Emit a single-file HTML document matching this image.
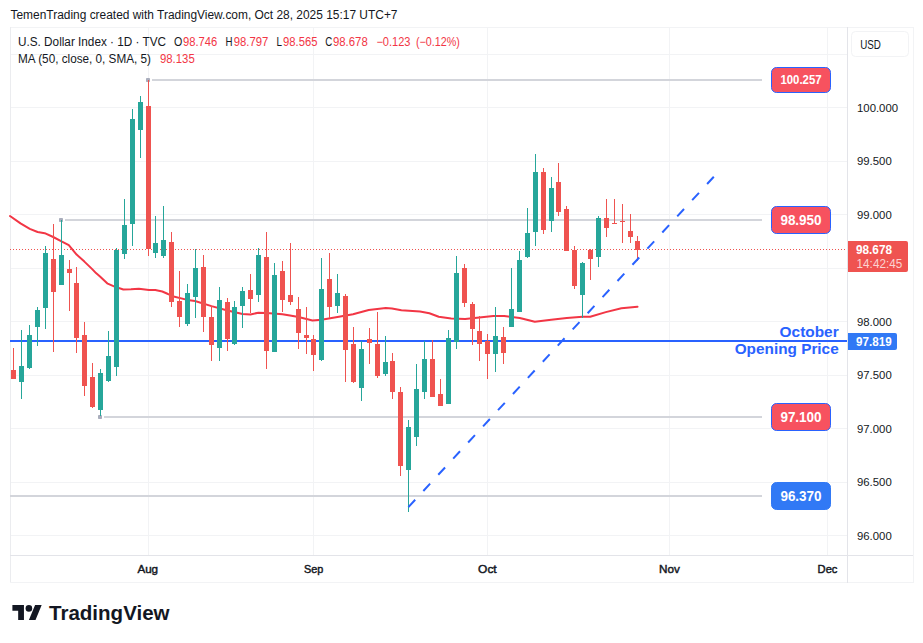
<!DOCTYPE html>
<html><head><meta charset="utf-8"><title>chart</title>
<style>
html,body{margin:0;padding:0;background:#fff;}
body{width:923px;height:643px;overflow:hidden;font-family:"Liberation Sans",sans-serif;}
svg{display:block;font-family:"Liberation Sans",sans-serif;}
</style></head><body>
<svg width="923" height="643" viewBox="0 0 923 643">
<rect width="923" height="643" fill="#ffffff"/>
<!-- grid -->
<g shape-rendering="crispEdges">
<rect x="11" y="54" width="836" height="1" fill="#f2f3f5"/><rect x="11" y="107" width="836" height="1" fill="#f2f3f5"/><rect x="11" y="161" width="836" height="1" fill="#f2f3f5"/><rect x="11" y="214" width="836" height="1" fill="#f2f3f5"/><rect x="11" y="268" width="836" height="1" fill="#f2f3f5"/><rect x="11" y="321" width="836" height="1" fill="#f2f3f5"/><rect x="11" y="375" width="836" height="1" fill="#f2f3f5"/><rect x="11" y="428" width="836" height="1" fill="#f2f3f5"/><rect x="11" y="482" width="836" height="1" fill="#f2f3f5"/><rect x="11" y="535" width="836" height="1" fill="#f2f3f5"/>
<rect x="148" y="28" width="1" height="527" fill="#f2f3f5"/><rect x="313" y="28" width="1" height="527" fill="#f2f3f5"/><rect x="487" y="28" width="1" height="527" fill="#f2f3f5"/><rect x="669" y="28" width="1" height="527" fill="#f2f3f5"/><rect x="827" y="28" width="1" height="527" fill="#f2f3f5"/>
<!-- frame -->
<rect x="10" y="27" width="903" height="1" fill="#f2f3f5"/>
<rect x="10" y="27" width="1" height="556" fill="#ebecef"/>
<rect x="913" y="27" width="1" height="556" fill="#f2f3f5"/>
<rect x="10" y="582" width="904" height="1" fill="#f2f3f5"/>
<rect x="10" y="555" width="903" height="1" fill="#e3e4e9"/>
<rect x="847" y="27" width="1" height="556" fill="#e3e4e9"/>
</g>
<!-- horizontal grey level lines -->
<rect x="152" y="79" width="610" height="2" fill="#d3d5db"/><rect x="146" y="78" width="4" height="4" rx="0.8" fill="#a9adbc"/>
<rect x="65" y="219" width="697" height="2" fill="#d3d5db"/><rect x="59" y="218" width="4" height="4" rx="0.8" fill="#a9adbc"/>
<rect x="104" y="416" width="658" height="2" fill="#d3d5db"/><rect x="98" y="415" width="4" height="4" rx="0.8" fill="#a9adbc"/>
<rect x="10" y="495" width="752" height="2" fill="#d3d5db"/>
<!-- october opening price line -->
<rect x="10" y="340" width="837" height="2" fill="#2962ff"/>
<!-- price dotted line -->
<line x1="10" y1="249.5" x2="846" y2="249.5" stroke="#ef5350" stroke-width="1" stroke-dasharray="1 2" shape-rendering="crispEdges"/>
<!-- MA -->
<path d="M10,216 L20.5,223.4 L29.8,228.9 L37.6,232 L44.7,233.2 L53.2,237 L61.5,241.3 L68.8,245.2 L76.6,254.6 L84.4,261.6 L92.2,269.1 L96,273.1 L100,276.5 L107.7,283.7 L114,286.4 L123.3,289.5 L131,289.2 L138.9,288.7 L149,289.9 L155.3,290.1 L162.3,291.5 L168,294 L171.5,296 L187.4,299.9 L195,301 L211.5,306.1 L227.5,310.5 L242.5,313.9 L250.5,314.4 L258.4,312.7 L266.5,313.1 L282.4,314.2 L290,315.5 L298.5,317 L312.5,320.5 L321.6,319.7 L337.5,317 L353,314.2 L368.7,310 L385.8,308 L392,308.5 L401.4,310.3 L420,311.6 L429.4,313.3 L438.7,316.7 L451.2,318.4 L465.2,319 L479.3,317.5 L493.3,316.1 L504.2,316.1 L519.8,318.0 L534.8,321.8 L551.2,319.7 L566.8,317.9 L582.4,316.8 L590.2,316.8 L605.8,312.1 L621.4,308.2 L637.5,306.7" fill="none" stroke="#f23645" stroke-width="2" stroke-linejoin="round" stroke-linecap="round"/>
<!-- candles -->
<g shape-rendering="crispEdges">
<rect x="13" y="348" width="1" height="31" fill="#ef5350"/>
<rect x="11" y="370" width="5" height="9" fill="#ef5350"/>
<rect x="21" y="330" width="1" height="69" fill="#26a69a"/>
<rect x="19" y="366" width="5" height="16" fill="#26a69a"/>
<rect x="29" y="325" width="1" height="44" fill="#26a69a"/>
<rect x="27" y="335" width="5" height="33" fill="#26a69a"/>
<rect x="37" y="307" width="1" height="39" fill="#26a69a"/>
<rect x="35" y="310" width="5" height="17" fill="#26a69a"/>
<rect x="45" y="246" width="1" height="83" fill="#26a69a"/>
<rect x="43" y="253" width="5" height="55" fill="#26a69a"/>
<rect x="53" y="224" width="1" height="128" fill="#ef5350"/>
<rect x="51" y="259" width="5" height="33" fill="#ef5350"/>
<rect x="61" y="220" width="1" height="65" fill="#26a69a"/>
<rect x="59" y="255" width="5" height="30" fill="#26a69a"/>
<rect x="69" y="260" width="1" height="51" fill="#ef5350"/>
<rect x="67" y="269" width="5" height="4" fill="#ef5350"/>
<rect x="76" y="267" width="1" height="86" fill="#ef5350"/>
<rect x="74" y="283" width="5" height="55" fill="#ef5350"/>
<rect x="84" y="322" width="1" height="74" fill="#ef5350"/>
<rect x="82" y="335" width="5" height="51" fill="#ef5350"/>
<rect x="92" y="363" width="1" height="45" fill="#ef5350"/>
<rect x="90" y="377" width="5" height="30" fill="#ef5350"/>
<rect x="100" y="369" width="1" height="47" fill="#26a69a"/>
<rect x="98" y="373" width="5" height="37" fill="#26a69a"/>
<rect x="108" y="331" width="1" height="51" fill="#26a69a"/>
<rect x="106" y="356" width="5" height="25" fill="#26a69a"/>
<rect x="116" y="248" width="1" height="128" fill="#26a69a"/>
<rect x="114" y="250" width="5" height="117" fill="#26a69a"/>
<rect x="124" y="199" width="1" height="60" fill="#26a69a"/>
<rect x="122" y="225" width="5" height="29" fill="#26a69a"/>
<rect x="132" y="109" width="1" height="137" fill="#26a69a"/>
<rect x="130" y="119" width="5" height="105" fill="#26a69a"/>
<rect x="140" y="96" width="1" height="62" fill="#26a69a"/>
<rect x="138" y="102" width="5" height="28" fill="#26a69a"/>
<rect x="148" y="80" width="1" height="176" fill="#ef5350"/>
<rect x="146" y="106" width="5" height="143" fill="#ef5350"/>
<rect x="155" y="216" width="1" height="42" fill="#26a69a"/>
<rect x="153" y="243" width="5" height="10" fill="#26a69a"/>
<rect x="163" y="206" width="1" height="52" fill="#26a69a"/>
<rect x="161" y="240" width="5" height="16" fill="#26a69a"/>
<rect x="171" y="232" width="1" height="75" fill="#ef5350"/>
<rect x="169" y="242" width="5" height="60" fill="#ef5350"/>
<rect x="179" y="271" width="1" height="56" fill="#ef5350"/>
<rect x="177" y="301" width="5" height="16" fill="#ef5350"/>
<rect x="187" y="284" width="1" height="42" fill="#26a69a"/>
<rect x="185" y="293" width="5" height="31" fill="#26a69a"/>
<rect x="195" y="249" width="1" height="69" fill="#26a69a"/>
<rect x="193" y="268" width="5" height="29" fill="#26a69a"/>
<rect x="203" y="255" width="1" height="77" fill="#ef5350"/>
<rect x="201" y="267" width="5" height="50" fill="#ef5350"/>
<rect x="211" y="306" width="1" height="55" fill="#ef5350"/>
<rect x="209" y="317" width="5" height="28" fill="#ef5350"/>
<rect x="219" y="287" width="1" height="74" fill="#26a69a"/>
<rect x="217" y="300" width="5" height="48" fill="#26a69a"/>
<rect x="227" y="298" width="1" height="53" fill="#ef5350"/>
<rect x="225" y="302" width="5" height="37" fill="#ef5350"/>
<rect x="234" y="301" width="1" height="44" fill="#26a69a"/>
<rect x="232" y="307" width="5" height="37" fill="#26a69a"/>
<rect x="242" y="287" width="1" height="41" fill="#26a69a"/>
<rect x="240" y="291" width="5" height="15" fill="#26a69a"/>
<rect x="250" y="274" width="1" height="39" fill="#ef5350"/>
<rect x="248" y="290" width="5" height="9" fill="#ef5350"/>
<rect x="258" y="248" width="1" height="54" fill="#26a69a"/>
<rect x="256" y="255" width="5" height="40" fill="#26a69a"/>
<rect x="266" y="232" width="1" height="137" fill="#ef5350"/>
<rect x="264" y="257" width="5" height="94" fill="#ef5350"/>
<rect x="274" y="263" width="1" height="89" fill="#26a69a"/>
<rect x="272" y="275" width="5" height="77" fill="#26a69a"/>
<rect x="282" y="261" width="1" height="51" fill="#ef5350"/>
<rect x="280" y="271" width="5" height="29" fill="#ef5350"/>
<rect x="290" y="243" width="1" height="62" fill="#ef5350"/>
<rect x="288" y="295" width="5" height="7" fill="#ef5350"/>
<rect x="298" y="297" width="1" height="52" fill="#ef5350"/>
<rect x="296" y="309" width="5" height="24" fill="#ef5350"/>
<rect x="306" y="307" width="1" height="47" fill="#ef5350"/>
<rect x="304" y="335" width="5" height="3" fill="#ef5350"/>
<rect x="313" y="335" width="1" height="36" fill="#ef5350"/>
<rect x="311" y="339" width="5" height="16" fill="#ef5350"/>
<rect x="321" y="258" width="1" height="103" fill="#26a69a"/>
<rect x="319" y="289" width="5" height="71" fill="#26a69a"/>
<rect x="329" y="253" width="1" height="65" fill="#ef5350"/>
<rect x="327" y="279" width="5" height="28" fill="#ef5350"/>
<rect x="337" y="274" width="1" height="39" fill="#26a69a"/>
<rect x="335" y="293" width="5" height="13" fill="#26a69a"/>
<rect x="345" y="294" width="1" height="88" fill="#ef5350"/>
<rect x="343" y="296" width="5" height="54" fill="#ef5350"/>
<rect x="353" y="327" width="1" height="56" fill="#ef5350"/>
<rect x="351" y="344" width="5" height="38" fill="#ef5350"/>
<rect x="361" y="341" width="1" height="60" fill="#26a69a"/>
<rect x="359" y="349" width="5" height="39" fill="#26a69a"/>
<rect x="369" y="328" width="1" height="36" fill="#ef5350"/>
<rect x="367" y="339" width="5" height="4" fill="#ef5350"/>
<rect x="377" y="312" width="1" height="66" fill="#ef5350"/>
<rect x="375" y="344" width="5" height="32" fill="#ef5350"/>
<rect x="385" y="336" width="1" height="40" fill="#26a69a"/>
<rect x="383" y="362" width="5" height="12" fill="#26a69a"/>
<rect x="392" y="353" width="1" height="46" fill="#ef5350"/>
<rect x="390" y="361" width="5" height="31" fill="#ef5350"/>
<rect x="400" y="387" width="1" height="89" fill="#ef5350"/>
<rect x="398" y="392" width="5" height="74" fill="#ef5350"/>
<rect x="408" y="420" width="1" height="92" fill="#26a69a"/>
<rect x="406" y="427" width="5" height="43" fill="#26a69a"/>
<rect x="416" y="364" width="1" height="82" fill="#26a69a"/>
<rect x="414" y="389" width="5" height="48" fill="#26a69a"/>
<rect x="424" y="341" width="1" height="58" fill="#26a69a"/>
<rect x="422" y="359" width="5" height="33" fill="#26a69a"/>
<rect x="432" y="340" width="1" height="57" fill="#ef5350"/>
<rect x="430" y="359" width="5" height="38" fill="#ef5350"/>
<rect x="440" y="379" width="1" height="27" fill="#ef5350"/>
<rect x="438" y="394" width="5" height="12" fill="#ef5350"/>
<rect x="448" y="330" width="1" height="74" fill="#26a69a"/>
<rect x="446" y="338" width="5" height="66" fill="#26a69a"/>
<rect x="456" y="256" width="1" height="93" fill="#26a69a"/>
<rect x="454" y="273" width="5" height="69" fill="#26a69a"/>
<rect x="464" y="264" width="1" height="43" fill="#ef5350"/>
<rect x="462" y="268" width="5" height="35" fill="#ef5350"/>
<rect x="472" y="302" width="1" height="43" fill="#ef5350"/>
<rect x="470" y="304" width="5" height="25" fill="#ef5350"/>
<rect x="479" y="316" width="1" height="45" fill="#ef5350"/>
<rect x="477" y="331" width="5" height="13" fill="#ef5350"/>
<rect x="487" y="334" width="1" height="45" fill="#ef5350"/>
<rect x="485" y="341" width="5" height="13" fill="#ef5350"/>
<rect x="495" y="307" width="1" height="65" fill="#26a69a"/>
<rect x="493" y="336" width="5" height="18" fill="#26a69a"/>
<rect x="503" y="327" width="1" height="37" fill="#ef5350"/>
<rect x="501" y="337" width="5" height="16" fill="#ef5350"/>
<rect x="511" y="268" width="1" height="59" fill="#26a69a"/>
<rect x="509" y="309" width="5" height="18" fill="#26a69a"/>
<rect x="519" y="251" width="1" height="61" fill="#26a69a"/>
<rect x="517" y="260" width="5" height="52" fill="#26a69a"/>
<rect x="527" y="208" width="1" height="50" fill="#26a69a"/>
<rect x="525" y="233" width="5" height="24" fill="#26a69a"/>
<rect x="535" y="154" width="1" height="92" fill="#26a69a"/>
<rect x="533" y="172" width="5" height="60" fill="#26a69a"/>
<rect x="543" y="168" width="1" height="66" fill="#ef5350"/>
<rect x="541" y="172" width="5" height="58" fill="#ef5350"/>
<rect x="551" y="177" width="1" height="55" fill="#26a69a"/>
<rect x="549" y="188" width="5" height="33" fill="#26a69a"/>
<rect x="558" y="163" width="1" height="53" fill="#ef5350"/>
<rect x="556" y="182" width="5" height="30" fill="#ef5350"/>
<rect x="566" y="206" width="1" height="45" fill="#ef5350"/>
<rect x="564" y="209" width="5" height="42" fill="#ef5350"/>
<rect x="574" y="246" width="1" height="43" fill="#ef5350"/>
<rect x="572" y="250" width="5" height="36" fill="#ef5350"/>
<rect x="582" y="262" width="1" height="56" fill="#26a69a"/>
<rect x="580" y="263" width="5" height="32" fill="#26a69a"/>
<rect x="590" y="249" width="1" height="31" fill="#ef5350"/>
<rect x="588" y="250" width="5" height="9" fill="#ef5350"/>
<rect x="598" y="216" width="1" height="51" fill="#26a69a"/>
<rect x="596" y="218" width="5" height="39" fill="#26a69a"/>
<rect x="606" y="199" width="1" height="38" fill="#ef5350"/>
<rect x="604" y="218" width="5" height="10" fill="#ef5350"/>
<rect x="614" y="199" width="1" height="25" fill="#ef5350"/>
<rect x="612" y="223" width="5" height="1" fill="#ef5350"/>
<rect x="622" y="204" width="1" height="39" fill="#ef5350"/>
<rect x="620" y="221" width="5" height="1" fill="#ef5350"/>
<rect x="630" y="214" width="1" height="29" fill="#ef5350"/>
<rect x="628" y="231" width="5" height="6" fill="#ef5350"/>
<rect x="637" y="236" width="1" height="25" fill="#ef5350"/>
<rect x="635" y="241" width="5" height="9" fill="#ef5350"/>
</g>
<!-- trend dashed -->
<line x1="408.4" y1="507.1" x2="713.8" y2="176.8" stroke="#2962ff" stroke-width="2" stroke-dasharray="10 12"/>
<!-- labels -->
<rect x="771.5" y="67.5" width="59" height="25" rx="5" fill="#f7525f" stroke="#2962ff" stroke-width="1"/><text x="780.4" y="83.6" textLength="41.2" lengthAdjust="spacingAndGlyphs" font-size="12" fill="#fff" font-weight="bold" text-anchor="start" >100.257</text><rect x="771.5" y="206.5" width="59" height="27" rx="5" fill="#f7525f" stroke="#2962ff" stroke-width="1"/><text x="780.4" y="225" textLength="41.2" lengthAdjust="spacingAndGlyphs" font-size="13.8" fill="#fff" font-weight="bold" text-anchor="start" >98.950</text><rect x="771.5" y="403.5" width="59" height="27" rx="5" fill="#f7525f" stroke="#2962ff" stroke-width="1"/><text x="780.4" y="421.8" textLength="41.2" lengthAdjust="spacingAndGlyphs" font-size="13.8" fill="#fff" font-weight="bold" text-anchor="start" >97.100</text><rect x="771.5" y="482.5" width="59" height="27" rx="5" fill="#3179f5" stroke="#3179f5" stroke-width="1"/><text x="780.4" y="501" textLength="41.2" lengthAdjust="spacingAndGlyphs" font-size="13.8" fill="#fff" font-weight="bold" text-anchor="start" >96.370</text>
<!-- October text -->
<text x="779.6" y="337.3" textLength="59.1" lengthAdjust="spacingAndGlyphs" font-size="14.2" fill="#2962ff" font-weight="bold" text-anchor="start" >October</text>
<text x="734.7" y="354" textLength="104" lengthAdjust="spacingAndGlyphs" font-size="14.2" fill="#2962ff" font-weight="bold" text-anchor="start" >Opening Price</text>
<!-- axis labels -->
<text x="857" y="111.9" textLength="41.1" lengthAdjust="spacingAndGlyphs" font-size="11.5" fill="#131722">100.000</text><text x="857" y="165.4" textLength="34.7" lengthAdjust="spacingAndGlyphs" font-size="11.5" fill="#131722">99.500</text><text x="857" y="218.9" textLength="34.7" lengthAdjust="spacingAndGlyphs" font-size="11.5" fill="#131722">99.000</text><text x="857" y="325.9" textLength="34.7" lengthAdjust="spacingAndGlyphs" font-size="11.5" fill="#131722">98.000</text><text x="857" y="379.4" textLength="34.7" lengthAdjust="spacingAndGlyphs" font-size="11.5" fill="#131722">97.500</text><text x="857" y="432.9" textLength="34.7" lengthAdjust="spacingAndGlyphs" font-size="11.5" fill="#131722">97.000</text><text x="857" y="486.4" textLength="34.7" lengthAdjust="spacingAndGlyphs" font-size="11.5" fill="#131722">96.500</text><text x="857" y="539.9" textLength="34.7" lengthAdjust="spacingAndGlyphs" font-size="11.5" fill="#131722">96.000</text>
<!-- price label -->
<path d="M848 241H906a2 2 0 0 1 2 2V270a2 2 0 0 1 -2 2H848Z" fill="#ef5350"/>
<text x="856" y="253.9" textLength="36" lengthAdjust="spacingAndGlyphs" font-size="12" fill="#fff" font-weight="bold" text-anchor="start" >98.678</text>
<text x="856.6" y="267.8" textLength="45.6" lengthAdjust="spacingAndGlyphs" font-size="12" fill="#fbd3d2" font-weight="normal" text-anchor="start" >14:42:45</text>
<path d="M848 333H895a2 2 0 0 1 2 2V348a2 2 0 0 1 -2 2H848Z" fill="#3179f5"/>
<text x="856" y="346" textLength="35.6" lengthAdjust="spacingAndGlyphs" font-size="12" fill="#fff" font-weight="bold" text-anchor="start" >97.819</text>
<!-- USD box -->
<rect x="851.5" y="31.5" width="57" height="25" rx="4" fill="#fff" stroke="#f2f3f5" stroke-width="1"/>
<text x="10.5" y="18.8" textLength="387" lengthAdjust="spacingAndGlyphs" font-size="12" fill="#131722" font-weight="normal" text-anchor="start" >TemenTrading created with TradingView.com, Oct 28, 2025 15:17 UTC+7</text><text x="18" y="45.8" textLength="148" lengthAdjust="spacingAndGlyphs" font-size="12" fill="#131722" font-weight="normal" text-anchor="start" >U.S. Dollar Index · 1D · TVC</text><text x="173.9" y="45.8" textLength="8.3" lengthAdjust="spacingAndGlyphs" font-size="12" fill="#131722" font-weight="normal" text-anchor="start" >O</text><text x="183" y="45.8" textLength="34.3" lengthAdjust="spacingAndGlyphs" font-size="12" fill="#f23645" font-weight="normal" text-anchor="start" >98.746</text><text x="225.5" y="45.8" textLength="7" lengthAdjust="spacingAndGlyphs" font-size="12" fill="#131722" font-weight="normal" text-anchor="start" >H</text><text x="233.7" y="45.8" textLength="34.6" lengthAdjust="spacingAndGlyphs" font-size="12" fill="#f23645" font-weight="normal" text-anchor="start" >98.797</text><text x="276.5" y="45.8" textLength="5.5" lengthAdjust="spacingAndGlyphs" font-size="12" fill="#131722" font-weight="normal" text-anchor="start" >L</text><text x="283" y="45.8" textLength="34.4" lengthAdjust="spacingAndGlyphs" font-size="12" fill="#f23645" font-weight="normal" text-anchor="start" >98.565</text><text x="325.3" y="45.8" textLength="7" lengthAdjust="spacingAndGlyphs" font-size="12" fill="#131722" font-weight="normal" text-anchor="start" >C</text><text x="333" y="45.8" textLength="34.7" lengthAdjust="spacingAndGlyphs" font-size="12" fill="#f23645" font-weight="normal" text-anchor="start" >98.678</text><text x="376.4" y="45.8" textLength="34.1" lengthAdjust="spacingAndGlyphs" font-size="12" fill="#f23645" font-weight="normal" text-anchor="start" >−0.123</text><text x="416" y="45.8" textLength="43.9" lengthAdjust="spacingAndGlyphs" font-size="12" fill="#f23645" font-weight="normal" text-anchor="start" >(−0.12%)</text><text x="18" y="63" textLength="133" lengthAdjust="spacingAndGlyphs" font-size="12" fill="#131722" font-weight="normal" text-anchor="start" >MA (50, close, 0, SMA, 5)</text><text x="160" y="63" textLength="34.7" lengthAdjust="spacingAndGlyphs" font-size="12" fill="#f23645" font-weight="normal" text-anchor="start" >98.135</text><text x="137.4" y="573.2" textLength="20.7" lengthAdjust="spacingAndGlyphs" font-size="11.5" fill="#131722" font-weight="normal" text-anchor="start" stroke="#131722" stroke-width="0.45">Aug</text><text x="304" y="573.2" textLength="19.3" lengthAdjust="spacingAndGlyphs" font-size="11.5" fill="#131722" font-weight="normal" text-anchor="start" stroke="#131722" stroke-width="0.45">Sep</text><text x="478.1" y="573.2" textLength="18.6" lengthAdjust="spacingAndGlyphs" font-size="11.5" fill="#131722" font-weight="normal" text-anchor="start" stroke="#131722" stroke-width="0.45">Oct</text><text x="659" y="573.2" textLength="20.8" lengthAdjust="spacingAndGlyphs" font-size="11.5" fill="#131722" font-weight="normal" text-anchor="start" stroke="#131722" stroke-width="0.45">Nov</text><text x="817.6" y="573.2" textLength="19.8" lengthAdjust="spacingAndGlyphs" font-size="11.5" fill="#131722" font-weight="normal" text-anchor="start" stroke="#131722" stroke-width="0.45">Dec</text><text x="860.2" y="49" textLength="20.7" lengthAdjust="spacingAndGlyphs" font-size="12" fill="#131722" font-weight="normal" text-anchor="start" >USD</text>
<!-- logo -->
<g transform="translate(12.4,601.8) scale(0.825)" fill="#131722">
<path d="M14 22H7V11H0V4h14v18z"/><circle cx="20" cy="8" r="4"/><path d="M28 22h-8l7.500-18h8L28 22z"/>
</g>
<text x="49.0" y="619.8" textLength="120.6" lengthAdjust="spacingAndGlyphs" font-size="20" fill="#131722" font-weight="bold" text-anchor="start" >TradingView</text>
</svg>
</body></html>
